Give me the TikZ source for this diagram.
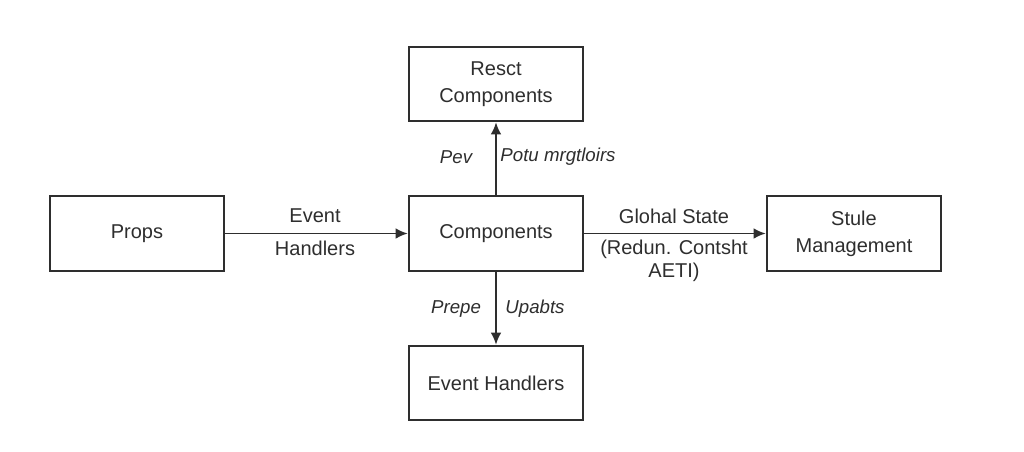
\documentclass[tikz,border=0pt]{standalone}
\usepackage{fontspec}
\setmainfont{Liberation Sans}
\usetikzlibrary{arrows.meta}
\definecolor{ink}{HTML}{2E2E2E}
\begin{document}
\begin{tikzpicture}[x=0.75pt,y=-0.75pt,
  box/.style={draw=ink,line width=1.5pt,fill=white,minimum width=131pt,minimum height=56pt,align=center,font=\fontsize{15}{20}\selectfont,text=ink,inner sep=0pt},
  conn/.style={draw=ink,line width=1.3pt,-{Latex[length=9pt,width=8pt]}},
  lbl/.style={font=\fontsize{15}{20}\selectfont,text=ink,align=center,inner sep=0pt},
  ilbl/.style={lbl,font=\fontsize{14}{18}\selectfont\itshape}]
\useasboundingbox (0,0) rectangle (1024,451);
\fill[white] (0,0) rectangle (1024,451);
\node[box] (rc) at (496,84) {Resct\\Components};
\node[box] (c) at (496,233.5) {Components};
\node[box] (p) at (137,233.5) {Props};
\node[box] (sm) at (854,233.5) {Stule\\Management};
\node[box] (eh) at (496,383) {Event Handlers};
\draw[conn] (p.east) -- (c.west);
\draw[conn] (c.east) -- (sm.west);
\draw[conn] (c.north) -- (rc.south);
\draw[conn] (c.south) -- (eh.north);
\node[lbl] (l1) at (315,216) {Event};
\node[lbl] (l2) at (315,248) {Handlers};
\node[lbl] (l3) at (674,216) {Glohal State};
\node[lbl] (l4) at (674,249) {(Redun. Contsht};
\node[lbl] (l5) at (674,272) {AETI)};
\node[ilbl] (l6) at (456,157) {Pev};
\node[ilbl] (l7) at (558,157) {Potu mrgtloirs};
\node[ilbl] (l8) at (456,309) {Prepe};
\node[ilbl] (l9) at (535,309) {Upabts};
\end{tikzpicture}
\end{document}
